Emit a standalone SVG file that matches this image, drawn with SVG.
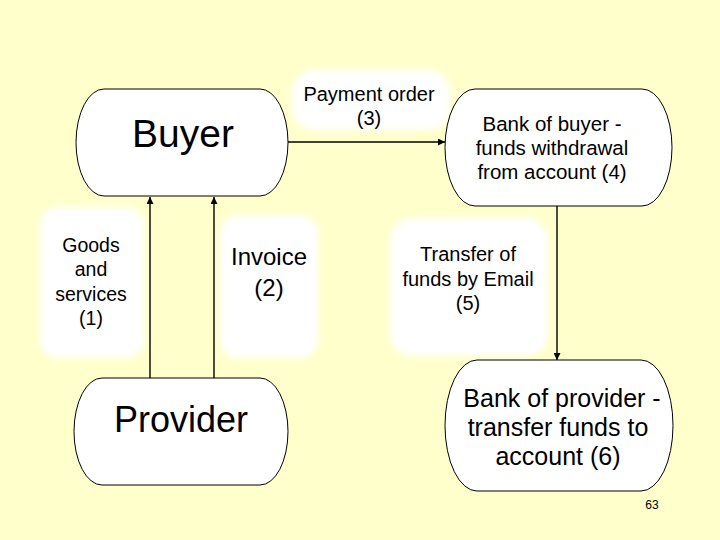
<svg xmlns="http://www.w3.org/2000/svg" width="720" height="540" viewBox="0 0 720 540">
<defs>
<filter id="soft" x="-20%" y="-20%" width="140%" height="140%"><feGaussianBlur stdDeviation="3"/></filter>
<marker id="ah" viewBox="0 0 10 10" refX="10" refY="5" markerWidth="7" markerHeight="7" markerUnits="userSpaceOnUse" orient="auto"><path d="M0,0 L10,5 L0,10 Z" fill="#000"/></marker>
</defs>
<style>
.bg{fill:#fff;filter:url(#soft)}
.node{fill:#fff;stroke:#000;stroke-width:1}
text{font-family:"Liberation Sans",Arial,sans-serif;fill:#000;text-anchor:middle}
.conn line{stroke:#000;stroke-width:1.4;marker-end:url(#ah)}
</style>
<rect width="720" height="540" fill="#FFFFCC"/>
<g id="label-goods"><rect class="bg" x="40" y="207" width="104" height="151" rx="18"/>
<text font-size="19.5"><tspan x="91" y="252">Goods</tspan><tspan x="91" y="276">and</tspan><tspan x="91" y="301">services</tspan><tspan x="91" y="325">(1)</tspan></text></g>
<g id="label-invoice"><rect class="bg" x="220" y="215" width="98" height="143" rx="18"/>
<text font-size="24"><tspan x="269" y="265">Invoice</tspan><tspan x="269" y="296">(2)</tspan></text></g>
<g id="label-payment"><rect class="bg" x="292" y="70" width="158" height="60" rx="22"/>
<text font-size="20"><tspan x="369" y="101">Payment order</tspan><tspan x="369" y="125">(3)</tspan></text></g>
<g id="label-transfer"><rect class="bg" x="390" y="218" width="158" height="138" rx="22"/>
<text font-size="20"><tspan x="468" y="261">Transfer of</tspan><tspan x="468" y="286">funds by Email</tspan><tspan x="468" y="310">(5)</tspan></text></g>
<g id="buyer"><path class="node" d="M104,89 H260 A28,53.5 0 0 1 260,196 H104 A28,53.5 0 0 1 104,89 Z"/>
<text x="183" y="147" font-size="39">Buyer</text></g>
<g id="bank-buyer"><path class="node" d="M475,89 H642 A30,58.5 0 0 1 642,206 H475 A30,58.5 0 0 1 475,89 Z"/>
<text font-size="20.5"><tspan x="552" y="131">Bank of buyer -</tspan><tspan x="552" y="155">funds withdrawal</tspan><tspan x="552" y="179">from account (4)</tspan></text></g>
<g id="provider"><path class="node" d="M102,378 H260 A28,53.5 0 0 1 260,485 H102 A28,53.5 0 0 1 102,378 Z"/>
<text x="181" y="432" font-size="36">Provider</text></g>
<g id="bank-provider"><path class="node" d="M477,360 H641 A32,65.5 0 0 1 641,491 H477 A32,65.5 0 0 1 477,360 Z"/>
<text font-size="25"><tspan x="562" y="407">Bank of provider -</tspan><tspan x="558" y="436">transfer funds to</tspan><tspan x="558" y="465">account (6)</tspan></text></g>
<g id="connectors" class="conn">
<line x1="150" y1="378" x2="150" y2="197"/>
<line x1="214" y1="378" x2="214" y2="197"/>
<line x1="288" y1="142" x2="445" y2="142"/>
<line x1="557" y1="206" x2="557" y2="360"/>
</g>
<text x="652" y="509" font-size="12">63</text>
</svg>
